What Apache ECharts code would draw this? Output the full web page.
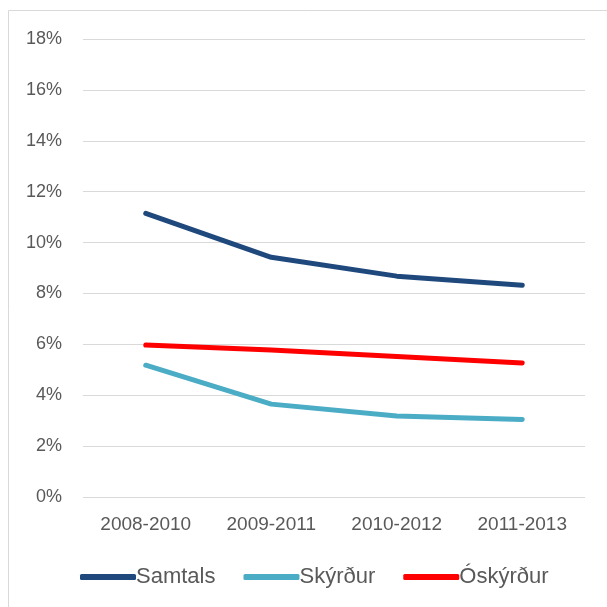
<!DOCTYPE html>
<html>
<head>
<meta charset="utf-8">
<script src="https://cdn.jsdelivr.net/npm/echarts@6/dist/echarts.min.js"></script>
<style>
  html, body { margin: 0; padding: 0; background: #fff; }
  #main { width: 607px; height: 607px; }
</style>
</head>
<body>
<div id="main"></div>
<script>
var categories = ['2008-2010', '2009-2011', '2010-2012', '2011-2013'];
var samtals = [11.15, 9.42, 8.68, 8.32];
var skyrdur = [5.18, 3.65, 3.18, 3.05];
var oskyrdur = [5.97, 5.78, 5.52, 5.27];
var yTicks = [0, 2, 4, 6, 8, 10, 12, 14, 16, 18];

var chart = echarts.init(document.getElementById('main'));
var font = 'Liberation Sans';
var textColor = '#595959';

var option = {
  animation: false,
  graphic: [{
    type: 'rect',
    shape: { x: 8.5, y: 10.5, width: 700, height: 700 },
    style: { fill: 'none', stroke: '#d9d9d9', lineWidth: 1 }
  }],
  grid: { left: 83, right: 22, top: 39, bottom: 110 },
  legend: {
    top: 561,
    left: 75,
    itemWidth: 56,
    itemHeight: 6,
    itemGap: 28,
    icon: 'roundRect',
    textStyle: { fontFamily: font, fontSize: 22, color: textColor, padding: [0, 0, 0, -5] },
    data: ['Samtals', 'Skýrður', 'Óskýrður']
  },
  xAxis: {
    type: 'category',
    data: categories,
    axisLine: { show: false },
    axisTick: { show: false },
    axisLabel: { fontFamily: font, fontSize: 19, color: textColor, margin: 18 }
  },
  yAxis: {
    type: 'value',
    min: yTicks[0],
    max: yTicks[yTicks.length - 1],
    interval: 2,
    axisLabel: {
      fontFamily: font, fontSize: 18, color: textColor, margin: 21,
      formatter: function (v) { return v + '%'; }
    },
    splitLine: { lineStyle: { color: '#d9d9d9', width: 1 } }
  },
  series: [
    { name: 'Samtals', type: 'line', data: samtals, symbol: 'none',
      itemStyle: { color: '#1f497d' },
      lineStyle: { width: 5, color: '#1f497d', cap: 'round', join: 'round' } },
    { name: 'Skýrður', type: 'line', data: skyrdur, symbol: 'none',
      itemStyle: { color: '#4bacc6' },
      lineStyle: { width: 5, color: '#4bacc6', cap: 'round', join: 'round' } },
    { name: 'Óskýrður', type: 'line', data: oskyrdur, symbol: 'none',
      itemStyle: { color: '#ff0000' },
      lineStyle: { width: 5, color: '#ff0000', cap: 'round', join: 'round' } }
  ]
};
chart.setOption(option);
</script>
</body>
</html>
